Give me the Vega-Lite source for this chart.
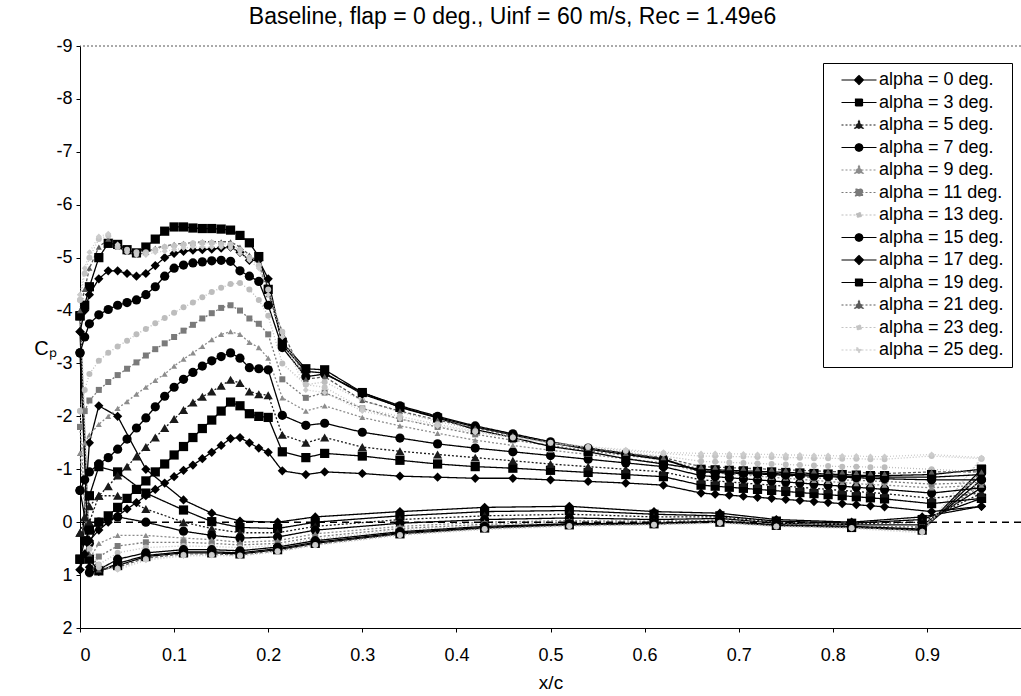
{
"$schema":"https://vega.github.io/schema/vega-lite/v6.json",
"width":941,"height":582,
"autosize":{"type":"none"},
"padding":{"left":80,"top":46,"right":0,"bottom":68},
"background":"white",
"config":{"view":{"stroke":null},"font":"Liberation Sans"},
"title":{"text":"Baseline, flap = 0 deg., Uinf = 60 m/s, Rec = 1.49e6","fontSize":23,"fontWeight":"normal","font":"Liberation Sans","color":"black","anchor":"middle","dx":-38,"offset":8},
"resolve":{"legend":{"color":"independent","shape":"independent","strokeDash":"independent"}},
"datasets":{
"upper":[
{"a":0,"x":0,"c":0.9},{"a":0,"x":0.005,"c":0.6},{"a":0,"x":0.01,"c":0.35},{"a":0,"x":0.02,"c":0.15},{"a":0,"x":0.03,"c":0},{"a":0,"x":0.04,"c":-0.12},{"a":0,"x":0.05,"c":-0.25},{"a":0,"x":0.06,"c":-0.37},{"a":0,"x":0.07,"c":-0.5},{"a":0,"x":0.08,"c":-0.62},{"a":0,"x":0.09,"c":-0.74},{"a":0,"x":0.1,"c":-0.86},{"a":0,"x":0.11,"c":-0.98},{"a":0,"x":0.12,"c":-1.08},{"a":0,"x":0.13,"c":-1.2},{"a":0,"x":0.14,"c":-1.32},{"a":0,"x":0.15,"c":-1.45},{"a":0,"x":0.16,"c":-1.58},{"a":0,"x":0.17,"c":-1.6},{"a":0,"x":0.18,"c":-1.5},{"a":0,"x":0.19,"c":-1.4},{"a":0,"x":0.2,"c":-1.32},{"a":0,"x":0.215,"c":-0.97},{"a":0,"x":0.24,"c":-0.9},{"a":0,"x":0.26,"c":-0.95},{"a":0,"x":0.3,"c":-0.92},{"a":0,"x":0.34,"c":-0.87},{"a":0,"x":0.38,"c":-0.85},{"a":0,"x":0.42,"c":-0.83},{"a":0,"x":0.46,"c":-0.83},{"a":0,"x":0.5,"c":-0.8},{"a":0,"x":0.54,"c":-0.77},{"a":0,"x":0.58,"c":-0.74},{"a":0,"x":0.62,"c":-0.7},{"a":0,"x":0.66,"c":-0.55},{"a":0,"x":0.675,"c":-0.53},{"a":0,"x":0.69,"c":-0.51},{"a":0,"x":0.705,"c":-0.49},{"a":0,"x":0.72,"c":-0.47},{"a":0,"x":0.735,"c":-0.45},{"a":0,"x":0.75,"c":-0.43},{"a":0,"x":0.765,"c":-0.41},{"a":0,"x":0.78,"c":-0.39},{"a":0,"x":0.795,"c":-0.37},{"a":0,"x":0.81,"c":-0.35},{"a":0,"x":0.825,"c":-0.33},{"a":0,"x":0.84,"c":-0.31},{"a":0,"x":0.855,"c":-0.29},{"a":0,"x":0.905,"c":-0.2},{"a":0,"x":0.958,"c":-0.3},
{"a":3,"x":0,"c":0.7},{"a":3,"x":0.005,"c":0.35},{"a":3,"x":0.01,"c":0.15},{"a":3,"x":0.02,"c":0},{"a":3,"x":0.03,"c":-0.12},{"a":3,"x":0.04,"c":-0.28},{"a":3,"x":0.05,"c":-0.45},{"a":3,"x":0.06,"c":-0.62},{"a":3,"x":0.07,"c":-0.78},{"a":3,"x":0.08,"c":-0.95},{"a":3,"x":0.09,"c":-1.1},{"a":3,"x":0.1,"c":-1.27},{"a":3,"x":0.11,"c":-1.43},{"a":3,"x":0.12,"c":-1.6},{"a":3,"x":0.13,"c":-1.77},{"a":3,"x":0.14,"c":-1.93},{"a":3,"x":0.15,"c":-2.1},{"a":3,"x":0.16,"c":-2.27},{"a":3,"x":0.17,"c":-2.2},{"a":3,"x":0.18,"c":-2.05},{"a":3,"x":0.19,"c":-2},{"a":3,"x":0.2,"c":-1.98},{"a":3,"x":0.215,"c":-1.33},{"a":3,"x":0.24,"c":-1.22},{"a":3,"x":0.26,"c":-1.3},{"a":3,"x":0.3,"c":-1.25},{"a":3,"x":0.34,"c":-1.17},{"a":3,"x":0.38,"c":-1.1},{"a":3,"x":0.42,"c":-1.05},{"a":3,"x":0.46,"c":-1.02},{"a":3,"x":0.5,"c":-0.98},{"a":3,"x":0.54,"c":-0.94},{"a":3,"x":0.58,"c":-0.9},{"a":3,"x":0.62,"c":-0.86},{"a":3,"x":0.66,"c":-0.7},{"a":3,"x":0.675,"c":-0.68},{"a":3,"x":0.69,"c":-0.66},{"a":3,"x":0.705,"c":-0.64},{"a":3,"x":0.72,"c":-0.62},{"a":3,"x":0.735,"c":-0.6},{"a":3,"x":0.75,"c":-0.58},{"a":3,"x":0.765,"c":-0.56},{"a":3,"x":0.78,"c":-0.54},{"a":3,"x":0.795,"c":-0.52},{"a":3,"x":0.81,"c":-0.5},{"a":3,"x":0.825,"c":-0.48},{"a":3,"x":0.84,"c":-0.46},{"a":3,"x":0.855,"c":-0.44},{"a":3,"x":0.905,"c":-0.35},{"a":3,"x":0.958,"c":-0.45},
{"a":5,"x":0,"c":0.2},{"a":5,"x":0.005,"c":-0.1},{"a":5,"x":0.01,"c":-0.3},{"a":5,"x":0.02,"c":-0.5},{"a":5,"x":0.03,"c":-0.68},{"a":5,"x":0.04,"c":-0.88},{"a":5,"x":0.05,"c":-1.05},{"a":5,"x":0.06,"c":-1.24},{"a":5,"x":0.07,"c":-1.42},{"a":5,"x":0.08,"c":-1.6},{"a":5,"x":0.09,"c":-1.78},{"a":5,"x":0.1,"c":-1.95},{"a":5,"x":0.11,"c":-2.12},{"a":5,"x":0.12,"c":-2.26},{"a":5,"x":0.13,"c":-2.37},{"a":5,"x":0.14,"c":-2.47},{"a":5,"x":0.15,"c":-2.58},{"a":5,"x":0.16,"c":-2.69},{"a":5,"x":0.17,"c":-2.63},{"a":5,"x":0.18,"c":-2.47},{"a":5,"x":0.19,"c":-2.42},{"a":5,"x":0.2,"c":-2.4},{"a":5,"x":0.215,"c":-1.65},{"a":5,"x":0.24,"c":-1.5},{"a":5,"x":0.26,"c":-1.6},{"a":5,"x":0.3,"c":-1.42},{"a":5,"x":0.34,"c":-1.34},{"a":5,"x":0.38,"c":-1.28},{"a":5,"x":0.42,"c":-1.22},{"a":5,"x":0.46,"c":-1.16},{"a":5,"x":0.5,"c":-1.1},{"a":5,"x":0.54,"c":-1.05},{"a":5,"x":0.58,"c":-1},{"a":5,"x":0.62,"c":-0.95},{"a":5,"x":0.66,"c":-0.8},{"a":5,"x":0.675,"c":-0.78},{"a":5,"x":0.69,"c":-0.76},{"a":5,"x":0.705,"c":-0.74},{"a":5,"x":0.72,"c":-0.72},{"a":5,"x":0.735,"c":-0.7},{"a":5,"x":0.75,"c":-0.68},{"a":5,"x":0.765,"c":-0.66},{"a":5,"x":0.78,"c":-0.64},{"a":5,"x":0.795,"c":-0.62},{"a":5,"x":0.81,"c":-0.6},{"a":5,"x":0.825,"c":-0.58},{"a":5,"x":0.84,"c":-0.56},{"a":5,"x":0.855,"c":-0.54},{"a":5,"x":0.905,"c":-0.45},{"a":5,"x":0.958,"c":-0.55},
{"a":7,"x":0,"c":-0.6},{"a":7,"x":0.005,"c":-0.8},{"a":7,"x":0.01,"c":-0.95},{"a":7,"x":0.02,"c":-1.1},{"a":7,"x":0.03,"c":-1.22},{"a":7,"x":0.04,"c":-1.38},{"a":7,"x":0.05,"c":-1.57},{"a":7,"x":0.06,"c":-1.78},{"a":7,"x":0.07,"c":-1.97},{"a":7,"x":0.08,"c":-2.18},{"a":7,"x":0.09,"c":-2.38},{"a":7,"x":0.1,"c":-2.55},{"a":7,"x":0.11,"c":-2.7},{"a":7,"x":0.12,"c":-2.83},{"a":7,"x":0.13,"c":-2.95},{"a":7,"x":0.14,"c":-3.05},{"a":7,"x":0.15,"c":-3.13},{"a":7,"x":0.16,"c":-3.2},{"a":7,"x":0.17,"c":-3.1},{"a":7,"x":0.18,"c":-2.92},{"a":7,"x":0.19,"c":-2.9},{"a":7,"x":0.2,"c":-2.88},{"a":7,"x":0.215,"c":-2.02},{"a":7,"x":0.24,"c":-1.83},{"a":7,"x":0.26,"c":-1.87},{"a":7,"x":0.3,"c":-1.7},{"a":7,"x":0.34,"c":-1.59},{"a":7,"x":0.38,"c":-1.48},{"a":7,"x":0.42,"c":-1.4},{"a":7,"x":0.46,"c":-1.33},{"a":7,"x":0.5,"c":-1.26},{"a":7,"x":0.54,"c":-1.19},{"a":7,"x":0.58,"c":-1.12},{"a":7,"x":0.62,"c":-1.05},{"a":7,"x":0.66,"c":-0.88},{"a":7,"x":0.675,"c":-0.86},{"a":7,"x":0.69,"c":-0.84},{"a":7,"x":0.705,"c":-0.82},{"a":7,"x":0.72,"c":-0.8},{"a":7,"x":0.735,"c":-0.78},{"a":7,"x":0.75,"c":-0.76},{"a":7,"x":0.765,"c":-0.74},{"a":7,"x":0.78,"c":-0.72},{"a":7,"x":0.795,"c":-0.7},{"a":7,"x":0.81,"c":-0.68},{"a":7,"x":0.825,"c":-0.66},{"a":7,"x":0.84,"c":-0.64},{"a":7,"x":0.855,"c":-0.62},{"a":7,"x":0.905,"c":-0.55},{"a":7,"x":0.958,"c":-0.65},
{"a":9,"x":0,"c":-1.3},{"a":9,"x":0.005,"c":-1.5},{"a":9,"x":0.01,"c":-1.65},{"a":9,"x":0.02,"c":-1.85},{"a":9,"x":0.03,"c":-2},{"a":9,"x":0.04,"c":-2.15},{"a":9,"x":0.05,"c":-2.28},{"a":9,"x":0.06,"c":-2.42},{"a":9,"x":0.07,"c":-2.55},{"a":9,"x":0.08,"c":-2.68},{"a":9,"x":0.09,"c":-2.8},{"a":9,"x":0.1,"c":-2.95},{"a":9,"x":0.11,"c":-3.08},{"a":9,"x":0.12,"c":-3.2},{"a":9,"x":0.13,"c":-3.32},{"a":9,"x":0.14,"c":-3.45},{"a":9,"x":0.15,"c":-3.55},{"a":9,"x":0.16,"c":-3.6},{"a":9,"x":0.17,"c":-3.55},{"a":9,"x":0.18,"c":-3.4},{"a":9,"x":0.19,"c":-3.3},{"a":9,"x":0.2,"c":-3.1},{"a":9,"x":0.215,"c":-2.35},{"a":9,"x":0.24,"c":-2.1},{"a":9,"x":0.26,"c":-2.2},{"a":9,"x":0.3,"c":-1.98},{"a":9,"x":0.34,"c":-1.82},{"a":9,"x":0.38,"c":-1.68},{"a":9,"x":0.42,"c":-1.55},{"a":9,"x":0.46,"c":-1.45},{"a":9,"x":0.5,"c":-1.36},{"a":9,"x":0.54,"c":-1.28},{"a":9,"x":0.58,"c":-1.2},{"a":9,"x":0.62,"c":-1.12},{"a":9,"x":0.66,"c":-0.95},{"a":9,"x":0.675,"c":-0.93},{"a":9,"x":0.69,"c":-0.91},{"a":9,"x":0.705,"c":-0.89},{"a":9,"x":0.72,"c":-0.87},{"a":9,"x":0.735,"c":-0.85},{"a":9,"x":0.75,"c":-0.83},{"a":9,"x":0.765,"c":-0.81},{"a":9,"x":0.78,"c":-0.79},{"a":9,"x":0.795,"c":-0.77},{"a":9,"x":0.81,"c":-0.75},{"a":9,"x":0.825,"c":-0.73},{"a":9,"x":0.84,"c":-0.71},{"a":9,"x":0.855,"c":-0.7},{"a":9,"x":0.905,"c":-0.65},{"a":9,"x":0.958,"c":-0.7},
{"a":11,"x":0,"c":-1.8},{"a":11,"x":0.005,"c":-2.1},{"a":11,"x":0.01,"c":-2.3},{"a":11,"x":0.02,"c":-2.5},{"a":11,"x":0.03,"c":-2.65},{"a":11,"x":0.04,"c":-2.78},{"a":11,"x":0.05,"c":-2.9},{"a":11,"x":0.06,"c":-3.02},{"a":11,"x":0.07,"c":-3.15},{"a":11,"x":0.08,"c":-3.27},{"a":11,"x":0.09,"c":-3.38},{"a":11,"x":0.1,"c":-3.5},{"a":11,"x":0.11,"c":-3.62},{"a":11,"x":0.12,"c":-3.73},{"a":11,"x":0.13,"c":-3.85},{"a":11,"x":0.14,"c":-3.95},{"a":11,"x":0.15,"c":-4.05},{"a":11,"x":0.16,"c":-4.1},{"a":11,"x":0.17,"c":-4},{"a":11,"x":0.18,"c":-3.85},{"a":11,"x":0.19,"c":-3.75},{"a":11,"x":0.2,"c":-3.55},{"a":11,"x":0.215,"c":-2.7},{"a":11,"x":0.24,"c":-2.35},{"a":11,"x":0.26,"c":-2.45},{"a":11,"x":0.3,"c":-2.15},{"a":11,"x":0.34,"c":-1.95},{"a":11,"x":0.38,"c":-1.8},{"a":11,"x":0.42,"c":-1.66},{"a":11,"x":0.46,"c":-1.55},{"a":11,"x":0.5,"c":-1.45},{"a":11,"x":0.54,"c":-1.35},{"a":11,"x":0.58,"c":-1.26},{"a":11,"x":0.62,"c":-1.18},{"a":11,"x":0.66,"c":-1},{"a":11,"x":0.675,"c":-0.98},{"a":11,"x":0.69,"c":-0.96},{"a":11,"x":0.705,"c":-0.94},{"a":11,"x":0.72,"c":-0.92},{"a":11,"x":0.735,"c":-0.9},{"a":11,"x":0.75,"c":-0.88},{"a":11,"x":0.765,"c":-0.86},{"a":11,"x":0.78,"c":-0.84},{"a":11,"x":0.795,"c":-0.82},{"a":11,"x":0.81,"c":-0.8},{"a":11,"x":0.825,"c":-0.79},{"a":11,"x":0.84,"c":-0.78},{"a":11,"x":0.855,"c":-0.77},{"a":11,"x":0.905,"c":-0.72},{"a":11,"x":0.958,"c":-0.75},
{"a":13,"x":0,"c":-2.1},{"a":13,"x":0.005,"c":-2.5},{"a":13,"x":0.01,"c":-2.8},{"a":13,"x":0.02,"c":-3.05},{"a":13,"x":0.03,"c":-3.2},{"a":13,"x":0.04,"c":-3.32},{"a":13,"x":0.05,"c":-3.43},{"a":13,"x":0.06,"c":-3.55},{"a":13,"x":0.07,"c":-3.65},{"a":13,"x":0.08,"c":-3.76},{"a":13,"x":0.09,"c":-3.86},{"a":13,"x":0.1,"c":-3.96},{"a":13,"x":0.11,"c":-4.06},{"a":13,"x":0.12,"c":-4.15},{"a":13,"x":0.13,"c":-4.25},{"a":13,"x":0.14,"c":-4.35},{"a":13,"x":0.15,"c":-4.43},{"a":13,"x":0.16,"c":-4.5},{"a":13,"x":0.17,"c":-4.52},{"a":13,"x":0.18,"c":-4.4},{"a":13,"x":0.19,"c":-4.2},{"a":13,"x":0.2,"c":-3.9},{"a":13,"x":0.215,"c":-3},{"a":13,"x":0.24,"c":-2.6},{"a":13,"x":0.26,"c":-2.65},{"a":13,"x":0.3,"c":-2.3},{"a":13,"x":0.34,"c":-2.08},{"a":13,"x":0.38,"c":-1.9},{"a":13,"x":0.42,"c":-1.75},{"a":13,"x":0.46,"c":-1.62},{"a":13,"x":0.5,"c":-1.5},{"a":13,"x":0.54,"c":-1.4},{"a":13,"x":0.58,"c":-1.32},{"a":13,"x":0.62,"c":-1.25},{"a":13,"x":0.66,"c":-1.15},{"a":13,"x":0.675,"c":-1.14},{"a":13,"x":0.69,"c":-1.13},{"a":13,"x":0.705,"c":-1.12},{"a":13,"x":0.72,"c":-1.11},{"a":13,"x":0.735,"c":-1.1},{"a":13,"x":0.75,"c":-1.09},{"a":13,"x":0.765,"c":-1.08},{"a":13,"x":0.78,"c":-1.07},{"a":13,"x":0.795,"c":-1.06},{"a":13,"x":0.81,"c":-1.05},{"a":13,"x":0.825,"c":-1.05},{"a":13,"x":0.84,"c":-1.04},{"a":13,"x":0.855,"c":-1.04},{"a":13,"x":0.905,"c":-1},{"a":13,"x":0.958,"c":-0.95},
{"a":15,"x":0,"c":-3.2},{"a":15,"x":0.005,"c":-3.5},{"a":15,"x":0.01,"c":-3.75},{"a":15,"x":0.02,"c":-3.92},{"a":15,"x":0.03,"c":-4.02},{"a":15,"x":0.04,"c":-4.1},{"a":15,"x":0.05,"c":-4.15},{"a":15,"x":0.06,"c":-4.2},{"a":15,"x":0.07,"c":-4.3},{"a":15,"x":0.08,"c":-4.45},{"a":15,"x":0.09,"c":-4.65},{"a":15,"x":0.1,"c":-4.8},{"a":15,"x":0.11,"c":-4.86},{"a":15,"x":0.12,"c":-4.9},{"a":15,"x":0.13,"c":-4.92},{"a":15,"x":0.14,"c":-4.94},{"a":15,"x":0.15,"c":-4.95},{"a":15,"x":0.16,"c":-4.93},{"a":15,"x":0.17,"c":-4.75},{"a":15,"x":0.18,"c":-4.65},{"a":15,"x":0.19,"c":-4.55},{"a":15,"x":0.2,"c":-4.1},{"a":15,"x":0.215,"c":-3.3},{"a":15,"x":0.24,"c":-2.75},{"a":15,"x":0.26,"c":-2.8},{"a":15,"x":0.3,"c":-2.45},{"a":15,"x":0.34,"c":-2.2},{"a":15,"x":0.38,"c":-2},{"a":15,"x":0.42,"c":-1.82},{"a":15,"x":0.46,"c":-1.67},{"a":15,"x":0.5,"c":-1.52},{"a":15,"x":0.54,"c":-1.4},{"a":15,"x":0.58,"c":-1.3},{"a":15,"x":0.62,"c":-1.2},{"a":15,"x":0.66,"c":-0.95},{"a":15,"x":0.675,"c":-0.94},{"a":15,"x":0.69,"c":-0.93},{"a":15,"x":0.705,"c":-0.92},{"a":15,"x":0.72,"c":-0.91},{"a":15,"x":0.735,"c":-0.9},{"a":15,"x":0.75,"c":-0.89},{"a":15,"x":0.765,"c":-0.88},{"a":15,"x":0.78,"c":-0.87},{"a":15,"x":0.795,"c":-0.86},{"a":15,"x":0.81,"c":-0.85},{"a":15,"x":0.825,"c":-0.84},{"a":15,"x":0.84,"c":-0.83},{"a":15,"x":0.855,"c":-0.82},{"a":15,"x":0.905,"c":-0.8},{"a":15,"x":0.958,"c":-0.8},
{"a":17,"x":0,"c":-3.6},{"a":17,"x":0.005,"c":-4},{"a":17,"x":0.01,"c":-4.3},{"a":17,"x":0.02,"c":-4.6},{"a":17,"x":0.03,"c":-4.75},{"a":17,"x":0.04,"c":-4.75},{"a":17,"x":0.05,"c":-4.7},{"a":17,"x":0.06,"c":-4.65},{"a":17,"x":0.07,"c":-4.7},{"a":17,"x":0.08,"c":-4.85},{"a":17,"x":0.09,"c":-5},{"a":17,"x":0.1,"c":-5.08},{"a":17,"x":0.11,"c":-5.12},{"a":17,"x":0.12,"c":-5.14},{"a":17,"x":0.13,"c":-5.15},{"a":17,"x":0.14,"c":-5.16},{"a":17,"x":0.15,"c":-5.18},{"a":17,"x":0.16,"c":-5.2},{"a":17,"x":0.17,"c":-5.1},{"a":17,"x":0.18,"c":-4.95},{"a":17,"x":0.19,"c":-4.95},{"a":17,"x":0.2,"c":-4.6},{"a":17,"x":0.215,"c":-3.35},{"a":17,"x":0.24,"c":-2.85},{"a":17,"x":0.26,"c":-2.82},{"a":17,"x":0.3,"c":-2.42},{"a":17,"x":0.34,"c":-2.18},{"a":17,"x":0.38,"c":-1.98},{"a":17,"x":0.42,"c":-1.8},{"a":17,"x":0.46,"c":-1.65},{"a":17,"x":0.5,"c":-1.5},{"a":17,"x":0.54,"c":-1.38},{"a":17,"x":0.58,"c":-1.28},{"a":17,"x":0.62,"c":-1.18},{"a":17,"x":0.66,"c":-0.97},{"a":17,"x":0.675,"c":-0.96},{"a":17,"x":0.69,"c":-0.95},{"a":17,"x":0.705,"c":-0.94},{"a":17,"x":0.72,"c":-0.93},{"a":17,"x":0.735,"c":-0.92},{"a":17,"x":0.75,"c":-0.91},{"a":17,"x":0.765,"c":-0.9},{"a":17,"x":0.78,"c":-0.89},{"a":17,"x":0.795,"c":-0.88},{"a":17,"x":0.81,"c":-0.87},{"a":17,"x":0.825,"c":-0.86},{"a":17,"x":0.84,"c":-0.86},{"a":17,"x":0.855,"c":-0.85},{"a":17,"x":0.905,"c":-0.85},{"a":17,"x":0.958,"c":-0.9},
{"a":19,"x":0,"c":-3.9},{"a":19,"x":0.005,"c":-4.1},{"a":19,"x":0.01,"c":-4.45},{"a":19,"x":0.02,"c":-5},{"a":19,"x":0.03,"c":-5.27},{"a":19,"x":0.04,"c":-5.25},{"a":19,"x":0.05,"c":-5.15},{"a":19,"x":0.06,"c":-5.09},{"a":19,"x":0.07,"c":-5.2},{"a":19,"x":0.08,"c":-5.35},{"a":19,"x":0.09,"c":-5.5},{"a":19,"x":0.1,"c":-5.58},{"a":19,"x":0.11,"c":-5.58},{"a":19,"x":0.12,"c":-5.56},{"a":19,"x":0.13,"c":-5.55},{"a":19,"x":0.14,"c":-5.55},{"a":19,"x":0.15,"c":-5.54},{"a":19,"x":0.16,"c":-5.52},{"a":19,"x":0.17,"c":-5.42},{"a":19,"x":0.18,"c":-5.28},{"a":19,"x":0.19,"c":-5.02},{"a":19,"x":0.2,"c":-4.4},{"a":19,"x":0.215,"c":-3.4},{"a":19,"x":0.24,"c":-2.9},{"a":19,"x":0.26,"c":-2.88},{"a":19,"x":0.3,"c":-2.45},{"a":19,"x":0.34,"c":-2.17},{"a":19,"x":0.38,"c":-1.97},{"a":19,"x":0.42,"c":-1.75},{"a":19,"x":0.46,"c":-1.6},{"a":19,"x":0.5,"c":-1.43},{"a":19,"x":0.54,"c":-1.33},{"a":19,"x":0.58,"c":-1.2},{"a":19,"x":0.62,"c":-1.1},{"a":19,"x":0.66,"c":-1},{"a":19,"x":0.675,"c":-0.99},{"a":19,"x":0.69,"c":-0.98},{"a":19,"x":0.705,"c":-0.97},{"a":19,"x":0.72,"c":-0.96},{"a":19,"x":0.735,"c":-0.95},{"a":19,"x":0.75,"c":-0.94},{"a":19,"x":0.765,"c":-0.93},{"a":19,"x":0.78,"c":-0.92},{"a":19,"x":0.795,"c":-0.91},{"a":19,"x":0.81,"c":-0.9},{"a":19,"x":0.825,"c":-0.89},{"a":19,"x":0.84,"c":-0.88},{"a":19,"x":0.855,"c":-0.88},{"a":19,"x":0.905,"c":-0.9},{"a":19,"x":0.958,"c":-1},
{"a":21,"x":0,"c":-4},{"a":21,"x":0.005,"c":-4.4},{"a":21,"x":0.01,"c":-4.8},{"a":21,"x":0.02,"c":-5.2},{"a":21,"x":0.03,"c":-5.35},{"a":21,"x":0.04,"c":-5.2},{"a":21,"x":0.05,"c":-5.1},{"a":21,"x":0.06,"c":-5.05},{"a":21,"x":0.07,"c":-5.1},{"a":21,"x":0.08,"c":-5.18},{"a":21,"x":0.09,"c":-5.22},{"a":21,"x":0.1,"c":-5.25},{"a":21,"x":0.11,"c":-5.27},{"a":21,"x":0.12,"c":-5.28},{"a":21,"x":0.13,"c":-5.3},{"a":21,"x":0.14,"c":-5.3},{"a":21,"x":0.15,"c":-5.3},{"a":21,"x":0.16,"c":-5.3},{"a":21,"x":0.17,"c":-5.2},{"a":21,"x":0.18,"c":-5.05},{"a":21,"x":0.19,"c":-4.9},{"a":21,"x":0.2,"c":-4.3},{"a":21,"x":0.215,"c":-3.6},{"a":21,"x":0.24,"c":-2.7},{"a":21,"x":0.26,"c":-2.75},{"a":21,"x":0.3,"c":-2.3},{"a":21,"x":0.34,"c":-2.1},{"a":21,"x":0.38,"c":-1.93},{"a":21,"x":0.42,"c":-1.78},{"a":21,"x":0.46,"c":-1.64},{"a":21,"x":0.5,"c":-1.5},{"a":21,"x":0.54,"c":-1.4},{"a":21,"x":0.58,"c":-1.3},{"a":21,"x":0.62,"c":-1.22},{"a":21,"x":0.66,"c":-1.05},{"a":21,"x":0.675,"c":-1.04},{"a":21,"x":0.69,"c":-1.03},{"a":21,"x":0.705,"c":-1.02},{"a":21,"x":0.72,"c":-1.01},{"a":21,"x":0.735,"c":-1},{"a":21,"x":0.75,"c":-0.99},{"a":21,"x":0.765,"c":-0.98},{"a":21,"x":0.78,"c":-0.97},{"a":21,"x":0.795,"c":-0.96},{"a":21,"x":0.81,"c":-0.95},{"a":21,"x":0.825,"c":-0.94},{"a":21,"x":0.84,"c":-0.93},{"a":21,"x":0.855,"c":-0.92},{"a":21,"x":0.905,"c":-0.95},{"a":21,"x":0.958,"c":-0.95},
{"a":23,"x":0,"c":-4.2},{"a":23,"x":0.005,"c":-4.7},{"a":23,"x":0.01,"c":-5},{"a":23,"x":0.02,"c":-5.35},{"a":23,"x":0.03,"c":-5.42},{"a":23,"x":0.04,"c":-5.2},{"a":23,"x":0.05,"c":-5.15},{"a":23,"x":0.06,"c":-5.1},{"a":23,"x":0.07,"c":-5.1},{"a":23,"x":0.08,"c":-5.15},{"a":23,"x":0.09,"c":-5.2},{"a":23,"x":0.1,"c":-5.22},{"a":23,"x":0.11,"c":-5.25},{"a":23,"x":0.12,"c":-5.27},{"a":23,"x":0.13,"c":-5.28},{"a":23,"x":0.14,"c":-5.28},{"a":23,"x":0.15,"c":-5.26},{"a":23,"x":0.16,"c":-5.25},{"a":23,"x":0.17,"c":-5.15},{"a":23,"x":0.18,"c":-5},{"a":23,"x":0.19,"c":-4.85},{"a":23,"x":0.2,"c":-4.4},{"a":23,"x":0.215,"c":-3.6},{"a":23,"x":0.24,"c":-2.6},{"a":23,"x":0.26,"c":-2.55},{"a":23,"x":0.3,"c":-2.15},{"a":23,"x":0.34,"c":-2},{"a":23,"x":0.38,"c":-1.85},{"a":23,"x":0.42,"c":-1.72},{"a":23,"x":0.46,"c":-1.6},{"a":23,"x":0.5,"c":-1.5},{"a":23,"x":0.54,"c":-1.42},{"a":23,"x":0.58,"c":-1.35},{"a":23,"x":0.62,"c":-1.3},{"a":23,"x":0.66,"c":-1.25},{"a":23,"x":0.675,"c":-1.25},{"a":23,"x":0.69,"c":-1.24},{"a":23,"x":0.705,"c":-1.24},{"a":23,"x":0.72,"c":-1.23},{"a":23,"x":0.735,"c":-1.23},{"a":23,"x":0.75,"c":-1.22},{"a":23,"x":0.765,"c":-1.22},{"a":23,"x":0.78,"c":-1.21},{"a":23,"x":0.795,"c":-1.21},{"a":23,"x":0.81,"c":-1.2},{"a":23,"x":0.825,"c":-1.2},{"a":23,"x":0.84,"c":-1.19},{"a":23,"x":0.855,"c":-1.19},{"a":23,"x":0.905,"c":-1.25},{"a":23,"x":0.958,"c":-1.2},
{"a":25,"x":0,"c":-4.3},{"a":25,"x":0.005,"c":-4.8},{"a":25,"x":0.01,"c":-5.1},{"a":25,"x":0.02,"c":-5.4},{"a":25,"x":0.03,"c":-5.45},{"a":25,"x":0.04,"c":-5.25},{"a":25,"x":0.05,"c":-5.1},{"a":25,"x":0.06,"c":-5.05},{"a":25,"x":0.07,"c":-5.05},{"a":25,"x":0.08,"c":-5.1},{"a":25,"x":0.09,"c":-5.12},{"a":25,"x":0.1,"c":-5.15},{"a":25,"x":0.11,"c":-5.18},{"a":25,"x":0.12,"c":-5.2},{"a":25,"x":0.13,"c":-5.2},{"a":25,"x":0.14,"c":-5.2},{"a":25,"x":0.15,"c":-5.2},{"a":25,"x":0.16,"c":-5.18},{"a":25,"x":0.17,"c":-5.08},{"a":25,"x":0.18,"c":-4.95},{"a":25,"x":0.19,"c":-4.8},{"a":25,"x":0.2,"c":-4.3},{"a":25,"x":0.215,"c":-3.5},{"a":25,"x":0.24,"c":-2.5},{"a":25,"x":0.26,"c":-2.45},{"a":25,"x":0.3,"c":-2.1},{"a":25,"x":0.34,"c":-1.95},{"a":25,"x":0.38,"c":-1.82},{"a":25,"x":0.42,"c":-1.7},{"a":25,"x":0.46,"c":-1.6},{"a":25,"x":0.5,"c":-1.5},{"a":25,"x":0.54,"c":-1.43},{"a":25,"x":0.58,"c":-1.37},{"a":25,"x":0.62,"c":-1.32},{"a":25,"x":0.66,"c":-1.3},{"a":25,"x":0.675,"c":-1.3},{"a":25,"x":0.69,"c":-1.29},{"a":25,"x":0.705,"c":-1.29},{"a":25,"x":0.72,"c":-1.28},{"a":25,"x":0.735,"c":-1.28},{"a":25,"x":0.75,"c":-1.27},{"a":25,"x":0.765,"c":-1.27},{"a":25,"x":0.78,"c":-1.26},{"a":25,"x":0.795,"c":-1.26},{"a":25,"x":0.81,"c":-1.25},{"a":25,"x":0.825,"c":-1.25},{"a":25,"x":0.84,"c":-1.24},{"a":25,"x":0.855,"c":-1.24},{"a":25,"x":0.905,"c":-1.28},{"a":25,"x":0.958,"c":-1.22}
],
"lower":[
{"a":0,"x":0,"c":0.9},{"a":0,"x":0.01,"c":-1.5},{"a":0,"x":0.02,"c":-2.2},{"a":0,"x":0.04,"c":-2},{"a":0,"x":0.07,"c":-1},{"a":0,"x":0.11,"c":-0.42},{"a":0,"x":0.14,"c":-0.17},{"a":0,"x":0.17,"c":-0.02},{"a":0,"x":0.21,"c":0},{"a":0,"x":0.25,"c":-0.1},{"a":0,"x":0.34,"c":-0.2},{"a":0,"x":0.43,"c":-0.28},{"a":0,"x":0.52,"c":-0.3},{"a":0,"x":0.61,"c":-0.2},{"a":0,"x":0.68,"c":-0.17},{"a":0,"x":0.74,"c":-0.05},{"a":0,"x":0.82,"c":0},{"a":0,"x":0.895,"c":-0.1},{"a":0,"x":0.958,"c":-0.3},
{"a":3,"x":0,"c":0.7},{"a":3,"x":0.01,"c":-0.5},{"a":3,"x":0.02,"c":-1.05},{"a":3,"x":0.04,"c":-0.95},{"a":3,"x":0.07,"c":-0.55},{"a":3,"x":0.11,"c":-0.23},{"a":3,"x":0.14,"c":-0.01},{"a":3,"x":0.17,"c":0.1},{"a":3,"x":0.21,"c":0.12},{"a":3,"x":0.25,"c":0},{"a":3,"x":0.34,"c":-0.12},{"a":3,"x":0.43,"c":-0.2},{"a":3,"x":0.52,"c":-0.22},{"a":3,"x":0.61,"c":-0.15},{"a":3,"x":0.68,"c":-0.12},{"a":3,"x":0.74,"c":-0.02},{"a":3,"x":0.82,"c":0.02},{"a":3,"x":0.895,"c":-0.05},{"a":3,"x":0.958,"c":-0.45},
{"a":5,"x":0,"c":0.2},{"a":5,"x":0.01,"c":0},{"a":5,"x":0.02,"c":-0.5},{"a":5,"x":0.04,"c":-0.5},{"a":5,"x":0.07,"c":-0.25},{"a":5,"x":0.11,"c":0},{"a":5,"x":0.14,"c":0.12},{"a":5,"x":0.17,"c":0.2},{"a":5,"x":0.21,"c":0.2},{"a":5,"x":0.25,"c":0.08},{"a":5,"x":0.34,"c":-0.05},{"a":5,"x":0.43,"c":-0.12},{"a":5,"x":0.52,"c":-0.15},{"a":5,"x":0.61,"c":-0.1},{"a":5,"x":0.68,"c":-0.1},{"a":5,"x":0.74,"c":0},{"a":5,"x":0.82,"c":0.03},{"a":5,"x":0.895,"c":0},{"a":5,"x":0.958,"c":-0.55},
{"a":7,"x":0,"c":-0.6},{"a":7,"x":0.01,"c":0.4},{"a":7,"x":0.02,"c":0},{"a":7,"x":0.04,"c":-0.1},{"a":7,"x":0.07,"c":0},{"a":7,"x":0.11,"c":0.17},{"a":7,"x":0.14,"c":0.25},{"a":7,"x":0.17,"c":0.3},{"a":7,"x":0.21,"c":0.28},{"a":7,"x":0.25,"c":0.15},{"a":7,"x":0.34,"c":0.02},{"a":7,"x":0.43,"c":-0.05},{"a":7,"x":0.52,"c":-0.08},{"a":7,"x":0.61,"c":-0.05},{"a":7,"x":0.68,"c":-0.07},{"a":7,"x":0.74,"c":0.02},{"a":7,"x":0.82,"c":0.05},{"a":7,"x":0.895,"c":0.05},{"a":7,"x":0.958,"c":-0.65},
{"a":9,"x":0,"c":-1.3},{"a":9,"x":0.01,"c":0.7},{"a":9,"x":0.02,"c":0.4},{"a":9,"x":0.04,"c":0.25},{"a":9,"x":0.07,"c":0.25},{"a":9,"x":0.11,"c":0.3},{"a":9,"x":0.14,"c":0.33},{"a":9,"x":0.17,"c":0.38},{"a":9,"x":0.21,"c":0.35},{"a":9,"x":0.25,"c":0.22},{"a":9,"x":0.34,"c":0.08},{"a":9,"x":0.43,"c":0},{"a":9,"x":0.52,"c":-0.03},{"a":9,"x":0.61,"c":-0.02},{"a":9,"x":0.68,"c":-0.05},{"a":9,"x":0.74,"c":0.03},{"a":9,"x":0.82,"c":0.06},{"a":9,"x":0.895,"c":0.08},{"a":9,"x":0.958,"c":-0.7},
{"a":11,"x":0,"c":-1.8},{"a":11,"x":0.01,"c":0.9},{"a":11,"x":0.02,"c":0.65},{"a":11,"x":0.04,"c":0.45},{"a":11,"x":0.07,"c":0.38},{"a":11,"x":0.11,"c":0.38},{"a":11,"x":0.14,"c":0.4},{"a":11,"x":0.17,"c":0.43},{"a":11,"x":0.21,"c":0.4},{"a":11,"x":0.25,"c":0.28},{"a":11,"x":0.34,"c":0.12},{"a":11,"x":0.43,"c":0.04},{"a":11,"x":0.52,"c":0},{"a":11,"x":0.61,"c":0},{"a":11,"x":0.68,"c":-0.03},{"a":11,"x":0.74,"c":0.04},{"a":11,"x":0.82,"c":0.07},{"a":11,"x":0.895,"c":0.1},{"a":11,"x":0.958,"c":-0.75},
{"a":13,"x":0,"c":-2.1},{"a":13,"x":0.01,"c":1},{"a":13,"x":0.02,"c":0.8},{"a":13,"x":0.04,"c":0.58},{"a":13,"x":0.07,"c":0.48},{"a":13,"x":0.11,"c":0.45},{"a":13,"x":0.14,"c":0.46},{"a":13,"x":0.17,"c":0.48},{"a":13,"x":0.21,"c":0.44},{"a":13,"x":0.25,"c":0.32},{"a":13,"x":0.34,"c":0.15},{"a":13,"x":0.43,"c":0.06},{"a":13,"x":0.52,"c":0.02},{"a":13,"x":0.61,"c":0.02},{"a":13,"x":0.68,"c":-0.02},{"a":13,"x":0.74,"c":0.05},{"a":13,"x":0.82,"c":0.08},{"a":13,"x":0.895,"c":0.12},{"a":13,"x":0.958,"c":-0.95},
{"a":15,"x":0,"c":-3.2},{"a":15,"x":0.01,"c":0.95},{"a":15,"x":0.02,"c":0.9},{"a":15,"x":0.04,"c":0.7},{"a":15,"x":0.07,"c":0.58},{"a":15,"x":0.11,"c":0.52},{"a":15,"x":0.14,"c":0.52},{"a":15,"x":0.17,"c":0.54},{"a":15,"x":0.21,"c":0.47},{"a":15,"x":0.25,"c":0.35},{"a":15,"x":0.34,"c":0.18},{"a":15,"x":0.43,"c":0.08},{"a":15,"x":0.52,"c":0.03},{"a":15,"x":0.61,"c":0.02},{"a":15,"x":0.68,"c":-0.02},{"a":15,"x":0.74,"c":0.05},{"a":15,"x":0.82,"c":0.08},{"a":15,"x":0.895,"c":0.13},{"a":15,"x":0.958,"c":-0.8},
{"a":17,"x":0,"c":-3.6},{"a":17,"x":0.01,"c":0.85},{"a":17,"x":0.02,"c":0.93},{"a":17,"x":0.04,"c":0.78},{"a":17,"x":0.07,"c":0.63},{"a":17,"x":0.11,"c":0.56},{"a":17,"x":0.14,"c":0.56},{"a":17,"x":0.17,"c":0.58},{"a":17,"x":0.21,"c":0.5},{"a":17,"x":0.25,"c":0.38},{"a":17,"x":0.34,"c":0.2},{"a":17,"x":0.43,"c":0.1},{"a":17,"x":0.52,"c":0.04},{"a":17,"x":0.61,"c":0.03},{"a":17,"x":0.68,"c":-0.01},{"a":17,"x":0.74,"c":0.06},{"a":17,"x":0.82,"c":0.09},{"a":17,"x":0.895,"c":0.15},{"a":17,"x":0.958,"c":-0.9},
{"a":19,"x":0,"c":-3.9},{"a":19,"x":0.01,"c":0.7},{"a":19,"x":0.02,"c":0.92},{"a":19,"x":0.04,"c":0.82},{"a":19,"x":0.07,"c":0.65},{"a":19,"x":0.11,"c":0.58},{"a":19,"x":0.14,"c":0.58},{"a":19,"x":0.17,"c":0.6},{"a":19,"x":0.21,"c":0.52},{"a":19,"x":0.25,"c":0.4},{"a":19,"x":0.34,"c":0.22},{"a":19,"x":0.43,"c":0.11},{"a":19,"x":0.52,"c":0.05},{"a":19,"x":0.61,"c":0.03},{"a":19,"x":0.68,"c":0},{"a":19,"x":0.74,"c":0.06},{"a":19,"x":0.82,"c":0.1},{"a":19,"x":0.895,"c":0.15},{"a":19,"x":0.958,"c":-1},
{"a":21,"x":0,"c":-4},{"a":21,"x":0.01,"c":0.6},{"a":21,"x":0.02,"c":0.9},{"a":21,"x":0.04,"c":0.85},{"a":21,"x":0.07,"c":0.68},{"a":21,"x":0.11,"c":0.6},{"a":21,"x":0.14,"c":0.6},{"a":21,"x":0.17,"c":0.62},{"a":21,"x":0.21,"c":0.54},{"a":21,"x":0.25,"c":0.42},{"a":21,"x":0.34,"c":0.23},{"a":21,"x":0.43,"c":0.12},{"a":21,"x":0.52,"c":0.06},{"a":21,"x":0.61,"c":0.04},{"a":21,"x":0.68,"c":0},{"a":21,"x":0.74,"c":0.07},{"a":21,"x":0.82,"c":0.1},{"a":21,"x":0.895,"c":0.16},{"a":21,"x":0.958,"c":-0.95},
{"a":23,"x":0,"c":-4.2},{"a":23,"x":0.01,"c":0.5},{"a":23,"x":0.02,"c":0.85},{"a":23,"x":0.04,"c":0.88},{"a":23,"x":0.07,"c":0.7},{"a":23,"x":0.11,"c":0.62},{"a":23,"x":0.14,"c":0.62},{"a":23,"x":0.17,"c":0.63},{"a":23,"x":0.21,"c":0.55},{"a":23,"x":0.25,"c":0.43},{"a":23,"x":0.34,"c":0.24},{"a":23,"x":0.43,"c":0.13},{"a":23,"x":0.52,"c":0.07},{"a":23,"x":0.61,"c":0.05},{"a":23,"x":0.68,"c":0.01},{"a":23,"x":0.74,"c":0.08},{"a":23,"x":0.82,"c":0.11},{"a":23,"x":0.895,"c":0.18},{"a":23,"x":0.958,"c":-1.2},
{"a":25,"x":0,"c":-4.3},{"a":25,"x":0.01,"c":0.4},{"a":25,"x":0.02,"c":0.8},{"a":25,"x":0.04,"c":0.9},{"a":25,"x":0.07,"c":0.72},{"a":25,"x":0.11,"c":0.64},{"a":25,"x":0.14,"c":0.63},{"a":25,"x":0.17,"c":0.64},{"a":25,"x":0.21,"c":0.56},{"a":25,"x":0.25,"c":0.44},{"a":25,"x":0.34,"c":0.25},{"a":25,"x":0.43,"c":0.14},{"a":25,"x":0.52,"c":0.08},{"a":25,"x":0.61,"c":0.05},{"a":25,"x":0.68,"c":0.02},{"a":25,"x":0.74,"c":0.08},{"a":25,"x":0.82,"c":0.12},{"a":25,"x":0.895,"c":0.2},{"a":25,"x":0.958,"c":-1.22}
]
},
"layer":[
{"data":{"name":"lower"},"mark":{"type":"line","strokeWidth":1.3},
 "encoding":{
  "x":{"field":"x","type":"quantitative","scale":{"domain":[0,1],"nice":false,"zero":false},"axis":{"title":"x/c","values":[0,0.1,0.2,0.3,0.4,0.5,0.6,0.7,0.8,0.9],"format":".1~f","grid":false,"domainColor":"black","tickColor":"black","tickSize":4,"labelPadding":14,"labelFontSize":18,"labelColor":"black","labelFont":"Liberation Sans","titleFont":"Liberation Sans","titleFontSize":19,"titleFontWeight":"normal","titleColor":"black","titlePadding":9}},
  "y":{"field":"c","type":"quantitative","scale":{"domain":[-9,2],"reverse":true,"nice":false,"zero":false},"axis":{"title":"Cₚ","values":[-9,-8,-7,-6,-5,-4,-3,-2,-1,0,1,2],"labelExpr":"'' + datum.value","grid":false,"domainColor":"black","tickColor":"black","tickSize":4,"labelPadding":4,"labelFontSize":18,"labelColor":"black","labelFont":"Liberation Sans","titleFont":"Liberation Sans","titleFontSize":20,"titleFontWeight":"normal","titleColor":"black","titleAngle":0,"titleAlign":"center","titleBaseline":"middle","titleX":-35,"titleY":302}},
  "color":{"field":"a","type":"nominal","scale":{"domain":[0,3,5,7,9,11,13,15,17,19,21,23,25],"range":["#000000","#000000","#1a1a1a","#000000","#8c8c8c","#7a7a7a","#bdbdbd","#000000","#000000","#000000","#5a5a5a","#c4c4c4","#cccccc"]},"legend":null},
  "strokeDash":{"field":"a","type":"nominal","scale":{"domain":[0,3,5,7,9,11,13,15,17,19,21,23,25],"range":[[1,0],[1,0],[2,2],[1,0],[2,2],[2,2],[1,2],[1,0],[1,0],[1,0],[3,2],[1,2],[1,2]]},"legend":null}
 }},
{"data":{"values":[{}]},"mark":{"type":"rule","color":"#555","strokeDash":[2,2],"strokeWidth":1},"encoding":{"y":{"datum":-9,"type":"quantitative"}}},
{"data":{"values":[{}]},"mark":{"type":"rule","color":"black","strokeDash":[7,5],"strokeWidth":1.5},"encoding":{"y":{"datum":0,"type":"quantitative"}}},
{"data":{"name":"upper"},"mark":{"type":"line","strokeWidth":1.3},
 "encoding":{
  "x":{"field":"x","type":"quantitative"},
  "y":{"field":"c","type":"quantitative"},
  "color":{"field":"a","type":"nominal","legend":null},
  "strokeDash":{"field":"a","type":"nominal","legend":null}
 }},
{"data":{"name":"lower"},"mark":{"type":"point","filled":true,"opacity":1},
 "encoding":{
  "x":{"field":"x","type":"quantitative"},
  "y":{"field":"c","type":"quantitative"},
  "size":{"condition":{"test":"indexof([9,11,13,21,23,25], datum.a) >= 0","value":36},"value":85},
  "color":{"field":"a","type":"nominal","legend":null},
  "shape":{"field":"a","type":"nominal","scale":{"domain":[0,3,5,7,9,11,13,15,17,19,21,23,25],"range":["diamond","square","triangle-up","circle","triangle-up","square","circle","circle","diamond","square","triangle-up","circle","diamond"]},"legend":null}
 }},
{"data":{"name":"upper"},"mark":{"type":"point","filled":true,"opacity":1},
 "encoding":{
  "x":{"field":"x","type":"quantitative"},
  "y":{"field":"c","type":"quantitative"},
  "size":{"condition":{"test":"indexof([9,11,13,21,23,25], datum.a) >= 0","value":36},"value":85},
  "color":{"field":"a","type":"nominal","legend":null},
  "shape":{"field":"a","type":"nominal","legend":null}
 }},
{"data":{"name":"upper"},"mark":{"type":"point","filled":true,"opacity":0},
 "encoding":{
  "x":{"field":"x","type":"quantitative"},
  "y":{"field":"c","type":"quantitative"},
  "color":{"field":"a","type":"nominal","legend":{"title":null,"orient":"none","legendX":743,"legendY":17,"strokeColor":"black","fillColor":"white","padding":8,"labelFontSize":18,"labelFont":"Liberation Sans","labelColor":"black","symbolSize":100,"rowPadding":4.5,"symbolOffset":19,"labelOffset":11,"encoding":{"symbols":{"shape":{"value":{"expr":"['M-3.5,0H3.5M0,-0.9L0.9,0L0,0.9L-0.9,0Z','M-3.5,0H3.5M-0.7,-0.7H0.7V0.7H-0.7Z','M-3.5,0H3.5M0,-0.85L0.85,0.65H-0.85Z','M-3.5,0H3.5M-0.75,0A0.75,0.75 0 1,1 0.75,0A0.75,0.75 0 1,1 -0.75,0Z','M-3.5,0H3.5M0,-0.85L0.85,0.65H-0.85Z','M-3.5,0H3.5M-0.7,-0.7H0.7V0.7H-0.7Z','M-3.5,0H3.5M-0.5,0A0.5,0.5 0 1,1 0.5,0A0.5,0.5 0 1,1 -0.5,0Z','M-3.5,0H3.5M-0.75,0A0.75,0.75 0 1,1 0.75,0A0.75,0.75 0 1,1 -0.75,0Z','M-3.5,0H3.5M0,-0.9L0.9,0L0,0.9L-0.9,0Z','M-3.5,0H3.5M-0.7,-0.7H0.7V0.7H-0.7Z','M-3.5,0H3.5M0,-0.85L0.85,0.65H-0.85Z','M-3.5,0H3.5M-0.5,0A0.5,0.5 0 1,1 0.5,0A0.5,0.5 0 1,1 -0.5,0Z','M-3.5,0H3.5M-0.5,-0.5L0.5,0L0,0.5L-0.5,0Z'][indexof([0,3,5,7,9,11,13,15,17,19,21,23,25], datum.value)]"}},"fill":{"value":{"expr":"scale('color', datum.value)"}},"stroke":{"value":{"expr":"scale('color', datum.value)"}},"strokeDash":{"value":{"expr":"indexof([5,9,11,13,21,23,25], datum.value) >= 0 ? [2,2] : [1,0]"}},"strokeWidth":{"value":1.2},"opacity":{"value":1},"size":{"value":100}}},"labelExpr":"'alpha = ' + datum.label + ' deg.'"}}
 }}
]
}
